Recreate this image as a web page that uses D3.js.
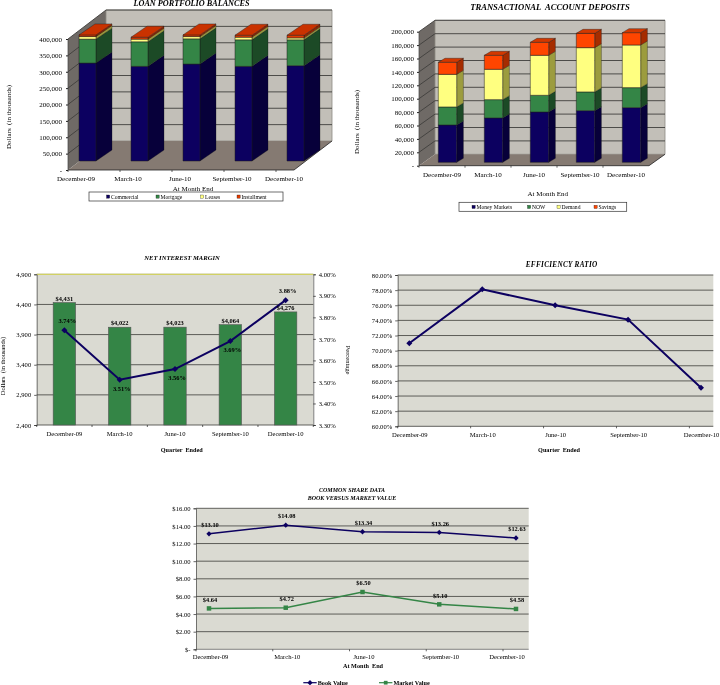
<!DOCTYPE html>
<html><head><meta charset="utf-8">
<script src="https://cdnjs.cloudflare.com/ajax/libs/d3/7.8.5/d3.min.js"></script>
<style>
html,body{margin:0;padding:0;background:#fff;overflow:hidden}
svg{display:block;filter:blur(0.35px)}
text{font-family:"Liberation Serif","Times New Roman",serif;fill:#000;white-space:pre}
</style></head><body>
<svg id="c" width="720" height="685" viewBox="0 0 720 685"></svg>
<script>
const quarters = ["December-09","March-10","June-10","September-10","December-10"];
// Loan portfolio
const loanSeries = ["Commercial","Mortgage","Leases","Installment"];
const commercial = [299000,289000,296000,289000,291000];
const mortgage = [73000,75000,77000,81000,79000];
const leases = [8000,8000,7000,8000,6000];
const installment = [5000,6000,5000,6000,8000];
const loanTicks = [0,50000,100000,150000,200000,250000,300000,350000,400000];
// Deposits
const depositSeries = ["Money Markets","NOW","Demand","Savings"];
const moneyMarkets = [55700,66200,75100,77100,81600];
const nowAcct = [26900,27300,24900,27900,29800];
const demand = [48700,45300,59700,66100,63700];
const savings = [18000,20900,19400,21400,18400];
const depositTicks = [0,20000,40000,60000,80000,100000,120000,140000,160000,180000,200000];
// NIM
const nimDollars = [4431,4022,4023,4064,4276];
const nimPct = [3.74,3.51,3.56,3.69,3.88];
const nimLeftTicks = [2400,2900,3400,3900,4400,4900];
const nimRightTicks = [3.3,3.4,3.5,3.6,3.7,3.8,3.9,4.0];
// Efficiency
const efficiency = [70.98,78.1,76.0,74.1,65.1];
const effTicks = [60,62,64,66,68,70,72,74,76,78,80];
// Share data
const bookValue = [13.10,14.08,13.34,13.26,12.63];
const marketValue = [4.64,4.72,6.50,5.10,4.58];
const shareTicks = [0,2,4,6,8,10,12,14,16];

const svg = d3.select("#c");
const NAVY="#0c0060", GREEN="#348546", YEL="#ffff80", PLOT="#dadad2";
const fmt = d3.format(",");
const money2 = v => v===0 ? "$-" : "$"+d3.format(".2f")(v);

function label(g,x,y,t,o={}){
  const e=g.append("text").attr("x",x).attr("y",y).text(t)
    .attr("font-size",o.size||6.6).attr("text-anchor",o.anchor||"middle");
  if(o.bold)e.attr("font-weight","bold");
  if(o.italic)e.attr("font-style","italic");
  if(o.rot!==undefined)e.attr("transform",`rotate(${o.rot} ${x} ${y})`);
  if(o.ls)e.attr("letter-spacing",o.ls);
  return e;
}
const poly=(g,pts,fill,stroke,sw)=>g.append("polygon").attr("points",pts.map(p=>p.join(",")).join(" "))
  .attr("fill",fill).attr("stroke",stroke||"none").attr("stroke-width",sw||0);

function chart3d(c){
  const g=svg.append("g");
  const y=d3.scaleLinear().domain(c.yDomain).range(c.yRange);
  const x=d3.scaleBand().domain(d3.range(quarters.length)).range(c.xRange);
  const {x0,xEnd,wallDx:dx,wallDy:dy}=c, y0=c.yRange[0], y1=c.yRange[1];
  poly(g,[[x0,y0],[x0+dx,y0+dy],[x0+dx,y1+dy],[x0,y1]],"#6f6a66");
  poly(g,[[x0+dx,y0+dy],[x0+dx,y1+dy],[xEnd+dx,y1+dy],[xEnd+dx,y0+dy]],"#c2bfb8","#8d8a84",0.8);
  poly(g,[[x0,y0],[x0+dx,y0+dy],[xEnd+dx,y0+dy],[xEnd,y0]],"#857a72");
  c.ticks.forEach(t=>{
    if(t===c.yDomain[0])return;
    g.append("polyline").attr("points",`${x0},${y(t)} ${x0+dx},${y(t)+dy} ${xEnd+dx},${y(t)+dy}`)
      .attr("fill","none").attr("stroke","#3f3e3c").attr("stroke-width",0.9);
  });
  g.append("line").attr("x1",x0).attr("x2",x0).attr("y1",y0).attr("y2",y1).attr("stroke","#444").attr("stroke-width",0.7);
  g.append("line").attr("x1",x0).attr("x2",xEnd).attr("y1",y0).attr("y2",y0).attr("stroke","#222").attr("stroke-width",0.8);
  g.append("line").attr("x1",xEnd).attr("x2",xEnd+dx).attr("y1",y0).attr("y2",y0+dy).attr("stroke","#222").attr("stroke-width",0.8);
  const yAxis=d3.axisLeft(y).tickValues(c.ticks).tickSize(2).tickFormat(v=>v===0?"-":fmt(v));
  const ya=g.append("g").attr("transform",`translate(${x0},0)`).call(yAxis);
  ya.select(".domain").remove();
  ya.selectAll("text").attr("font-size",7).attr("x",-c.tickPad).attr("fill","#000").attr("font-family",null);
  ya.selectAll("line").attr("stroke","#222");
  x.domain().forEach(i=>{
    const tx=x(i);
    if(tx<=xEnd)g.append("line").attr("x1",tx).attr("x2",tx).attr("y1",y0).attr("y2",y0+2).attr("stroke","#222").attr("stroke-width",0.7);
    label(g,tx+c.labelOff,c.labelY,quarters[i],{size:7});
  });
  const stack=d3.stack().keys(d3.range(c.series.length)).value((d,k)=>c.values[k][d])(x.domain());
  x.domain().forEach(i=>{
    stack.forEach((s,k)=>{
      const bx=x(i)+c.barOff, bw=c.barW, d=c.barDx, e=c.barDy;
      const top=y(s[i][1])+c.planeDy, bot=y(s[i][0])+c.planeDy, col=c.colors[k];
      poly(g,[[bx+bw,bot],[bx+bw+d,bot+e],[bx+bw+d,top+e],[bx+bw,top]],c.sideColors[k],"#111",0.3);
      poly(g,[[bx,bot],[bx+bw,bot],[bx+bw,top],[bx,top]],col,"#1c1c1c",0.5);
      if(k===stack.length-1)poly(g,[[bx,top],[bx+bw,top],[bx+bw+d,top+e],[bx+d,top+e]],c.topColor,"#1c1c1c",0.4);
    });
  });
  label(g,c.titleX,c.titleY,c.title,{size:c.titleSize,bold:true,italic:true});
  label(g,c.yTitleX,c.yTitleY,"Dollars  (in thousands)",{size:7,rot:-90});
  label(g,c.xTitleX,c.xTitleY,"At Month End",{size:7});
  g.append("rect").attr("x",c.lg[0]).attr("y",c.lg[1]).attr("width",c.lg[2]).attr("height",c.lg[3])
    .attr("fill","#fff").attr("stroke","#333").attr("stroke-width",0.7);
  c.series.forEach((n,k)=>{
    g.append("rect").attr("x",c.lgX[k]).attr("y",c.lg[1]+3).attr("width",3.2).attr("height",3.2)
      .attr("fill",c.colors[k]).attr("stroke","#111").attr("stroke-width",0.3);
    label(g,c.lgX[k]+4.5,c.lg[1]+6.8,n,{size:5.6,anchor:"start"});
  });
}

chart3d({
  title:"LOAN PORTFOLIO BALANCES",titleX:191.5,titleY:5.5,titleSize:8.2,
  series:loanSeries,values:[commercial,mortgage,leases,installment],
  colors:[NAVY,GREEN,YEL,"#e03a00"],sideColors:["#07003a","#1c4a26","#99993c","#8f2600"],topColor:"#c93200",
  yDomain:[0,400000],yRange:[170,39],ticks:loanTicks,xRange:[68,328],x0:68,xEnd:294,wallDx:38,wallDy:-29,
  barOff:11,barW:17,barDx:16,barDy:-11,planeDy:-9,labelOff:8,labelY:180.5,tickPad:6,
  yTitleX:10.5,yTitleY:117,xTitleX:193,xTitleY:191,
  lg:[89,192,194,9],lgX:[106.5,156,200.5,237]
});
chart3d({
  title:"TRANSACTIONAL  ACCOUNT DEPOSITS",titleX:550,titleY:9.5,titleSize:8.6,
  series:depositSeries,values:[moneyMarkets,nowAcct,demand,savings],
  colors:[NAVY,GREEN,YEL,"#ff4500"],sideColors:["#07003a","#1c4a26","#9c9c3e","#a52c00"],topColor:"#d23800",
  yDomain:[0,200000],yRange:[165.7,31.7],ticks:depositTicks,xRange:[419,649],x0:419,xEnd:649,wallDx:16,wallDy:-11.4,
  barOff:19.3,barW:18.4,barDx:6.7,barDy:-4,planeDy:-3.4,labelOff:23,labelY:176.5,tickPad:5,
  yTitleX:358.5,yTitleY:122,xTitleX:547.7,xTitleY:195.5,
  lg:[459,202.3,167.7,9],lgX:[472,527.5,557,594]
});

function frame(g,b,ticks,y){
  g.append("rect").attr("x",b.l).attr("y",b.t).attr("width",b.r-b.l).attr("height",b.b-b.t).attr("fill",PLOT);
  ticks.forEach(t=>g.append("line").attr("x1",b.l).attr("x2",b.r).attr("y1",y(t)).attr("y2",y(t))
    .attr("stroke","#3c3c38").attr("stroke-width",0.8));
}
function yaxis(g,scale,x,ticks,f,side){
  const ax=(side==="right"?d3.axisRight(scale):d3.axisLeft(scale)).tickValues(ticks).tickSize(2.5).tickFormat(f);
  const a=g.append("g").attr("transform",`translate(${x},0)`).call(ax);
  a.select(".domain").attr("stroke","#444").attr("stroke-width",0.7);
  a.selectAll("line").attr("stroke","#222").attr("stroke-width",0.7);
  a.selectAll("text").attr("font-size",6.6).attr("fill","#000").attr("font-family",null);
  return a;
}
const marker=d3.symbol().type(d3.symbolSquare);
function series(g,xs,y,vals,col,sym,w){
  g.append("path").attr("d",d3.line().x((d,i)=>xs(i)).y(d=>y(d))(vals)).attr("fill","none").attr("stroke",col).attr("stroke-width",w);
  vals.forEach((v,i)=>g.append("path").attr("d",marker.size(sym.size)()).attr("transform",`translate(${xs(i)},${y(v)}) rotate(${sym.rot})`).attr("fill",col));
}
const DIAMOND={size:18,rot:45}, SQUARE={size:16,rot:0};

// NIM
(function(){
  const g=svg.append("g"), b={l:36.7,r:313.3,t:274.3,b:425};
  const yL=d3.scaleLinear().domain([2400,4900]).range([b.b,b.t]);
  const yR=d3.scaleLinear().domain([3.3,4.0]).range([b.b,b.t]);
  const x=d3.scaleBand().domain(d3.range(5)).range([36.7,313.3]);
  frame(g,b,nimLeftTicks,yL);
  g.append("line").attr("x1",b.l).attr("x2",b.r).attr("y1",b.t).attr("y2",b.t).attr("stroke","#e8e860").attr("stroke-width",1);
  const cx=i=>x(i)+x.bandwidth()/2;
  g.selectAll("rect.bar").data(nimDollars).join("rect").attr("class","bar")
    .attr("x",(d,i)=>cx(i)-11.2).attr("width",22.4).attr("y",d=>yL(d)).attr("height",d=>b.b-yL(d))
    .attr("fill",GREEN).attr("stroke","#555").attr("stroke-width",0.6);
  yaxis(g,yL,b.l,nimLeftTicks,v=>d3.format(",")(v));
  yaxis(g,yR,b.r,nimRightTicks,v=>d3.format(".2f")(v)+"%","right");
  d3.range(6).forEach(i=>g.append("line").attr("x1",b.l+i*x.bandwidth()).attr("x2",b.l+i*x.bandwidth()).attr("y1",b.b).attr("y2",b.b+2).attr("stroke","#222").attr("stroke-width",0.7));
  series(g,cx,yR,nimPct,NAVY,DIAMOND,2);
  nimDollars.forEach((v,i)=>label(g,cx(i),yL(v)-1.8,"$"+fmt(v),{bold:true,size:6.4}));
  const pctSide=[-1,1,1,1,-1];
  nimPct.forEach((v,i)=>label(g,cx(i)+(i===0?3:2),yR(v)+pctSide[i]*9+2.2,v.toFixed(2)+"%",{bold:true,size:6.4}));
  quarters.forEach((q,i)=>label(g,cx(i),436.2,q));
  label(g,181.7,452.2,"Quarter  Ended",{bold:true,size:6.2});
  label(g,182,260.2,"NET INTEREST MARGIN",{bold:true,italic:true,size:6.6});
  label(g,5,366,"Dollars  (in thousands)",{rot:-90,size:6.4});
  label(g,346,360,"Percentage",{rot:90,size:6.6});
})();

// Efficiency
(function(){
  const g=svg.append("g"), b={l:397.7,r:713.3,t:275,b:426.3};
  const y=d3.scaleLinear().domain([60,80]).range([b.b,b.t]);
  const x=d3.scalePoint().domain(d3.range(5)).range([409.3,701]);
  frame(g,b,effTicks,y);
  yaxis(g,y,b.l,effTicks,v=>d3.format(".2f")(v)+"%");
  d3.range(5).forEach(i=>g.append("line").attr("x1",x(i)-11.6).attr("x2",x(i)-11.6).attr("y1",b.b).attr("y2",b.b+2).attr("stroke","#222").attr("stroke-width",0.7));
  series(g,x,y,efficiency,NAVY,DIAMOND,2);
  quarters.forEach((q,i)=>label(g,Math.min(x(i)+0.5,702),437.2,q));
  label(g,559,452.2,"Quarter  Ended",{bold:true,size:6.2});
  label(g,561.7,266.5,"EFFICIENCY RATIO",{bold:true,italic:true,size:7.2,ls:0.3});
})();

// Share data
(function(){
  const g=svg.append("g"), b={l:196,r:528.7,t:508.3,b:649.3};
  const y=d3.scaleLinear().domain([0,16]).range([b.b,b.t]);
  const x=d3.scalePoint().domain(d3.range(5)).range([209,516]);
  frame(g,b,shareTicks.slice(1),y);
  yaxis(g,y,b.l,shareTicks,money2);
  g.append("line").attr("x1",b.l).attr("x2",b.r).attr("y1",b.b).attr("y2",b.b).attr("stroke","#555").attr("stroke-width",0.7);
  d3.range(5).forEach(i=>g.append("line").attr("x1",x(i)-13).attr("x2",x(i)-13).attr("y1",b.b).attr("y2",b.b+2).attr("stroke","#222").attr("stroke-width",0.7));
  series(g,x,y,bookValue,NAVY,{size:14,rot:45},1.5);
  series(g,x,y,marketValue,GREEN,{size:20,rot:0},1.5);
  bookValue.forEach((v,i)=>label(g,x(i)+1,y(v)-6.8,"$"+v.toFixed(2),{bold:true,size:6.4}));
  marketValue.forEach((v,i)=>label(g,x(i)+1,y(v)-6.8,"$"+v.toFixed(2),{bold:true,size:6.4}));
  quarters.forEach((q,i)=>label(g,Math.min(x(i)+1.5,507),659,q));
  label(g,363,668,"At Month  End",{bold:true,size:6.2});
  label(g,352,492,"COMMON SHARE DATA",{bold:true,italic:true,size:6});
  label(g,352,499.5,"BOOK VERSUS MARKET VALUE",{bold:true,italic:true,size:6});
  [[303.3,"Book Value",NAVY,{size:14,rot:45}],[379,"Market Value",GREEN,{size:14,rot:0}]].forEach(([lx,t,c,s])=>{
    g.append("line").attr("x1",lx).attr("x2",lx+13.4).attr("y1",682.7).attr("y2",682.7).attr("stroke",c).attr("stroke-width",1.2);
    g.append("path").attr("d",marker.size(s.size)()).attr("transform",`translate(${lx+6.7},682.7) rotate(${s.rot})`).attr("fill",c);
    label(g,lx+14.4,684.6,t,{bold:true,anchor:"start",size:6.2});
  });
})();
</script></body></html>
